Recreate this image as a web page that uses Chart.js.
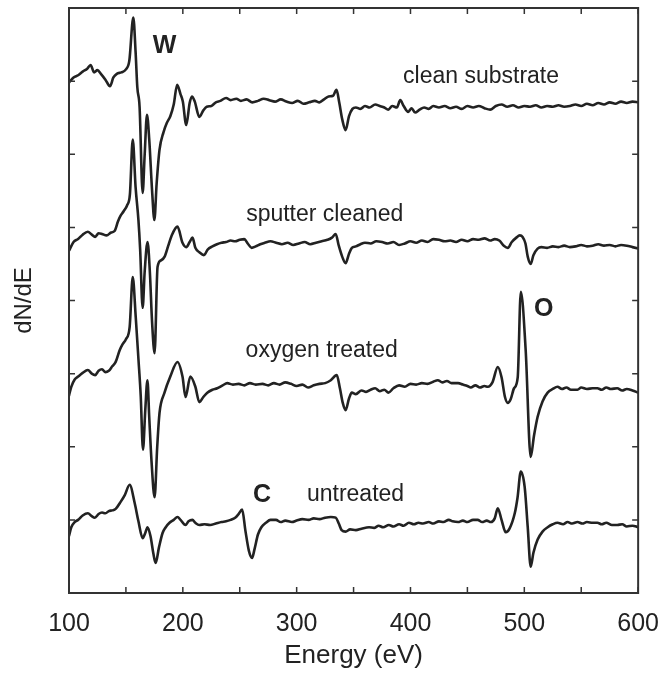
<!DOCTYPE html>
<html>
<head>
<meta charset="utf-8">
<title>dN/dE spectra</title>
<script src="https://cdn.jsdelivr.net/npm/chart.js@4/dist/chart.umd.min.js"></script>
<style>
	html, body { margin: 0; padding: 0; background: #fff; }
	#wrap { width: 667px; height: 675px; position: relative; }
</style>
</head>
<body>
<div id="wrap"><canvas id="spectra"></canvas></div>
<script>
// ── Data (energy in eV, dN/dE in arbitrary offset units) ─────────────
const xTicks = [100, 200, 300, 400, 500, 600];
const xMinorTicks = [150, 250, 350, 450, 550];
const yTicks = [1, 2, 3, 4, 5, 6, 7];

const cleanEnergy = [100, 104, 108, 112, 116, 119, 122, 125, 128, 132, 136, 139, 142, 146, 150, 153, 156.5, 158.5, 160, 162, 164.7, 166.5, 168.5, 170.5, 173, 175, 177, 179.5, 183, 186, 189, 192, 195, 198, 200, 203, 206, 208, 210.5, 214.5, 218, 221, 225, 229, 233, 238, 242, 247, 251, 256, 261, 266, 271, 276, 281, 286, 291, 296, 301, 306, 311, 316, 320, 324, 328, 332, 335, 337.5, 340, 343, 346, 349, 352, 356, 360, 364, 369, 373, 377, 380.5, 384, 388, 391, 394, 398, 401, 404, 408, 412, 416, 420, 425, 430, 435, 440, 445, 450, 455, 460, 465, 470, 475, 480, 485, 490, 495, 500, 505, 510, 515, 520, 525, 530, 535, 540, 545, 550, 555, 560, 565, 570, 575, 580, 585, 590, 595, 600];
const cleanSignal = [6.98, 7.05, 7.08, 7.13, 7.17, 7.22, 7.12, 7.15, 7.10, 7.02, 6.93, 7.05, 7.10, 7.12, 7.16, 7.28, 7.87, 7.40, 6.92, 6.65, 5.47, 6.00, 6.54, 6.20, 5.50, 5.10, 5.60, 6.06, 6.30, 6.43, 6.52, 6.68, 6.95, 6.82, 6.72, 6.40, 6.70, 6.79, 6.72, 6.51, 6.60, 6.65, 6.66, 6.71, 6.73, 6.77, 6.74, 6.76, 6.73, 6.75, 6.71, 6.73, 6.76, 6.74, 6.72, 6.75, 6.72, 6.70, 6.73, 6.69, 6.71, 6.73, 6.71, 6.75, 6.79, 6.80, 6.88, 6.70, 6.48, 6.33, 6.52, 6.62, 6.64, 6.62, 6.66, 6.64, 6.68, 6.66, 6.64, 6.61, 6.66, 6.64, 6.74, 6.66, 6.58, 6.63, 6.57, 6.61, 6.64, 6.62, 6.66, 6.64, 6.66, 6.63, 6.65, 6.62, 6.66, 6.64, 6.66, 6.63, 6.61, 6.66, 6.68, 6.65, 6.67, 6.64, 6.66, 6.65, 6.67, 6.64, 6.66, 6.65, 6.67, 6.65, 6.66, 6.68, 6.66, 6.69, 6.67, 6.70, 6.68, 6.71, 6.69, 6.72, 6.70, 6.72, 6.71];

const sputterEnergy = [100, 104, 108, 112, 116.5, 120, 123, 126, 129, 133, 137, 140, 143, 145, 148, 151, 153.5, 156, 158.5, 161, 162.5, 164.7, 166.5, 169, 171, 173, 175.2, 177.8, 181, 184, 187, 190, 195.3, 199.7, 203, 206, 208.5, 211, 214.5, 218.5, 222, 226, 230, 234, 238, 242, 246, 250, 254, 257, 260.5, 264, 268, 272, 277, 282, 287, 292, 297, 302, 307, 312, 317, 322, 327, 331, 334.3, 337, 340, 343, 346, 348.5, 352, 356, 360, 365, 370, 375, 380, 385, 390, 395, 400, 405, 410, 415, 420, 425, 430, 435, 440, 445, 450, 455, 460, 465, 470, 474, 478, 482, 485.5, 489, 493, 496, 498.5, 501, 503, 505.6, 508, 511.7, 515, 520, 525, 530, 535, 540, 545, 550, 555, 560, 565, 570, 575, 580, 585, 590, 595, 600];
const sputterSignal = [4.68, 4.80, 4.84, 4.90, 4.94, 4.90, 4.87, 4.92, 4.91, 4.89, 4.93, 4.95, 5.08, 5.15, 5.22, 5.30, 5.45, 6.20, 5.55, 5.10, 4.70, 3.90, 4.40, 4.80, 4.40, 3.70, 3.28, 4.46, 4.55, 4.60, 4.74, 4.88, 5.01, 4.79, 4.73, 4.80, 4.86, 4.72, 4.66, 4.62, 4.70, 4.74, 4.77, 4.79, 4.80, 4.82, 4.81, 4.83, 4.84, 4.78, 4.72, 4.74, 4.77, 4.79, 4.81, 4.79, 4.77, 4.79, 4.76, 4.78, 4.80, 4.77, 4.79, 4.81, 4.83, 4.86, 4.91, 4.75, 4.60, 4.51, 4.64, 4.72, 4.74, 4.77, 4.79, 4.78, 4.81, 4.80, 4.78, 4.80, 4.76, 4.78, 4.81, 4.79, 4.82, 4.80, 4.84, 4.83, 4.81, 4.82, 4.80, 4.83, 4.81, 4.84, 4.83, 4.85, 4.82, 4.84, 4.82, 4.75, 4.72, 4.80, 4.86, 4.89, 4.87, 4.78, 4.60, 4.50, 4.62, 4.71, 4.73, 4.72, 4.74, 4.73, 4.75, 4.73, 4.74, 4.76, 4.74, 4.75, 4.77, 4.75, 4.76, 4.74, 4.76, 4.75, 4.73, 4.71];

const oxygenEnergy = [100, 102, 105, 108, 112, 116.5, 120, 123, 126, 129, 132, 135, 138, 141, 144.5, 147, 150, 153.3, 156, 158.6, 161, 163, 165, 167, 168.9, 170.5, 172.5, 175.2, 177.5, 179.5, 183.9, 189, 195.3, 199.7, 202.4, 206.6, 211, 214.5, 218, 221.5, 226, 230.2, 235, 239, 244, 249, 254, 259, 264, 270, 275, 280, 285, 290, 295, 300, 305, 310, 315, 320, 325, 330, 335.2, 338, 340.5, 343, 346, 348.5, 352, 357, 361, 365, 369, 373, 377, 380.6, 385, 390, 395, 400, 405, 410, 415, 420, 424, 428, 432, 436, 441.8, 446, 450, 453, 457, 461, 465, 468, 472, 476.7, 480, 483, 485.5, 488, 491, 494.2, 496.9, 501.2, 505.6, 508.5, 511.7, 516, 520.5, 525, 529.2, 533, 537, 541, 546.7, 550, 555, 560, 564.2, 568, 572, 576, 581.6, 586, 590, 595, 600];
const oxygenSignal = [2.70, 2.82, 2.92, 2.96, 3.01, 3.05, 3.00, 2.98, 3.04, 3.06, 3.02, 3.04, 3.10, 3.16, 3.32, 3.40, 3.47, 3.64, 4.32, 3.78, 3.20, 2.70, 1.96, 2.50, 2.91, 2.40, 1.80, 1.31, 2.00, 2.46, 2.74, 2.96, 3.16, 2.96, 2.68, 2.96, 2.82, 2.61, 2.68, 2.74, 2.78, 2.80, 2.84, 2.87, 2.85, 2.86, 2.84, 2.87, 2.85, 2.86, 2.84, 2.87, 2.85, 2.88, 2.86, 2.83, 2.85, 2.81, 2.84, 2.86, 2.87, 2.91, 2.98, 2.80, 2.60, 2.50, 2.66, 2.74, 2.72, 2.77, 2.75, 2.78, 2.80, 2.76, 2.78, 2.74, 2.80, 2.84, 2.82, 2.86, 2.85, 2.87, 2.86, 2.89, 2.91, 2.88, 2.90, 2.87, 2.87, 2.85, 2.83, 2.81, 2.84, 2.81, 2.83, 2.82, 2.88, 3.09, 2.95, 2.68, 2.60, 2.65, 2.80, 2.95, 4.12, 3.32, 1.86, 2.15, 2.41, 2.62, 2.74, 2.79, 2.82, 2.79, 2.81, 2.78, 2.78, 2.81, 2.79, 2.80, 2.80, 2.78, 2.81, 2.79, 2.80, 2.77, 2.79, 2.77, 2.74];

const untreatedEnergy = [100, 102, 105, 108, 112, 116.6, 120, 122.7, 126, 129, 132, 135, 138, 141, 145.5, 149, 153.3, 157.7, 161, 164.7, 167, 169, 171.7, 174, 176.1, 179, 182.2, 185, 188.3, 192, 195.3, 198, 202.3, 205, 208.4, 211, 214.5, 219, 224, 229, 234, 238, 242, 246, 249, 252.1, 255, 258, 260.8, 263, 266, 269, 273, 277, 281.8, 286, 290, 295.8, 300, 305, 310.5, 315, 320, 325, 330, 334.3, 337, 339.5, 343, 347, 352, 357, 363.6, 368, 372, 376, 381, 385, 390, 394, 398.6, 403, 407, 411, 416, 420, 425, 429, 433.6, 437, 441.8, 446, 450, 455, 459, 463, 467, 470.6, 474, 476.7, 480, 483.7, 487, 491.6, 494, 496.9, 500.3, 503, 505.6, 508, 511.7, 516, 520.5, 525, 529.2, 534, 538, 542, 546.7, 551, 555, 560, 564.2, 568, 572, 577, 581.6, 586, 590, 595, 600];
const untreatedSignal = [0.78, 0.90, 0.97, 1.00, 1.06, 1.09, 1.05, 1.03, 1.08, 1.10, 1.09, 1.12, 1.13, 1.15, 1.25, 1.34, 1.48, 1.23, 0.98, 0.75, 0.82, 0.90, 0.77, 0.55, 0.41, 0.62, 0.82, 0.90, 0.96, 1.00, 1.04, 1.00, 0.93, 0.98, 1.00, 0.96, 0.93, 0.94, 0.93, 0.95, 0.97, 0.98, 1.00, 1.03, 1.08, 1.14, 0.85, 0.58, 0.48, 0.60, 0.80, 0.90, 0.96, 1.00, 1.00, 0.97, 0.99, 0.97, 0.99, 1.01, 1.00, 1.02, 1.01, 1.03, 1.04, 1.03, 0.95, 0.86, 0.84, 0.87, 0.86, 0.88, 0.90, 0.89, 0.92, 0.90, 0.93, 0.91, 0.94, 0.92, 0.96, 0.94, 0.96, 0.95, 0.97, 0.95, 0.98, 0.97, 1.00, 0.98, 0.97, 0.99, 0.97, 1.00, 1.00, 0.97, 0.99, 0.97, 1.02, 1.16, 1.00, 0.83, 0.88, 1.09, 1.30, 1.66, 1.45, 0.90, 0.36, 0.55, 0.73, 0.84, 0.90, 0.94, 0.96, 0.94, 0.97, 0.95, 0.97, 0.95, 0.97, 0.96, 0.96, 0.94, 0.96, 0.93, 0.93, 0.94, 0.91, 0.92, 0.90];

// Annotation text placed in data coordinates (energy, dN/dE)
const annotations = [
	{ text: "W",               x: 184,   y: 7.48, bold: true  },
	{ text: "clean substrate", x: 462,   y: 7.06, bold: false },
	{ text: "sputter cleaned", x: 324.7, y: 5.18, bold: false },
	{ text: "oxygen treated",  x: 322,   y: 3.32, bold: false },
	{ text: "O",               x: 517,   y: 3.88, bold: true  },
	{ text: "C",               x: 269.6, y: 1.34, bold: true  },
	{ text: "untreated",       x: 351.7, y: 1.35, bold: false },
];

const FONT = "'Liberation Sans', Arial, Helvetica, sans-serif";
const INK  = "#222";

function toPoints(xs, ys) {
	return xs.map((x, i) => ({ x: x, y: ys[i] }));
}

function spectrum(label, xs, ys) {
	return {
		label:                  label,
		data:                   toPoints(xs, ys),
		borderColor:            INK,
		borderWidth:            2.6,
		borderJoinStyle:        "round",
		borderCapStyle:         "round",
		pointRadius:            0,
		cubicInterpolationMode: "monotone",
		fill:                   false,
	};
}

// ── Frame, inward ticks and text labels ────────────────────────────
const framePlugin = {
	id: "frame",
	afterDraw(chart) {
		const { ctx, chartArea: a, scales } = chart;
		const xs = scales.x, ys = scales.y;
		ctx.save();
		ctx.strokeStyle = "#333";
		ctx.lineWidth   = 2;
		ctx.strokeRect(a.left, a.top, a.right - a.left, a.bottom - a.top);

		ctx.lineWidth = 1.5;
		ctx.beginPath();
		xTicks.concat(xMinorTicks).forEach(v => {
			const px = xs.getPixelForValue(v);
			ctx.moveTo(px, a.bottom); ctx.lineTo(px, a.bottom - 6);
			ctx.moveTo(px, a.top);    ctx.lineTo(px, a.top + 6);
		});
		yTicks.forEach(v => {
			const py = ys.getPixelForValue(v);
			ctx.moveTo(a.left, py);  ctx.lineTo(a.left + 6, py);
			ctx.moveTo(a.right, py); ctx.lineTo(a.right - 6, py);
		});
		ctx.stroke();

		ctx.fillStyle    = INK;
		ctx.textAlign    = "center";
		ctx.textBaseline = "middle";
		annotations.forEach(t => {
			ctx.font = (t.bold ? "bold 25px " : "23px ") + FONT;
			ctx.fillText(t.text, xs.getPixelForValue(t.x), ys.getPixelForValue(t.y));
		});
		ctx.restore();
	},
};

document.addEventListener("DOMContentLoaded", function () {
	new Chart(document.getElementById("spectra"), {
		type: "line",
		data: {
			datasets: [
				spectrum("clean substrate", cleanEnergy,     cleanSignal),
				spectrum("sputter cleaned", sputterEnergy,   sputterSignal),
				spectrum("oxygen treated",  oxygenEnergy,    oxygenSignal),
				spectrum("untreated",       untreatedEnergy, untreatedSignal),
			],
		},
		options: {
			responsive:          true,
			maintainAspectRatio: false,
			animation:           false,
			layout: { padding: { left: 0, right: 26, top: 8, bottom: 0 } },
			plugins: {
				legend:  { display: false },
				tooltip: { enabled: false },
			},
			scales: {
				x: {
					type: "linear",
					min:  100,
					max:  600,
					grid:   { display: false },
					border: { display: false },
					afterBuildTicks: s => { s.ticks = xTicks.map(v => ({ value: v })); },
					afterFit: s => { s.height = 82; },
					ticks: {
						color:       INK,
						padding:     8,
						maxRotation: 0,
						font:        { family: FONT, size: 25 },
					},
					title: {
						display: true,
						text:    "Energy (eV)",
						color:   INK,
						padding: { top: 0, bottom: 4 },
						font:    { family: FONT, size: 26 },
					},
				},
				y: {
					min: 0,
					max: 8,
					grid:   { display: false },
					border: { display: false },
					ticks:  { display: false },
					afterFit: s => { s.width = 69; },
					title: {
						display: true,
						text:    "dN/dE",
						color:   INK,
						padding: { top: 10, bottom: 0 },
						font:    { family: FONT, size: 24 },
					},
				},
			},
		},
		plugins: [framePlugin],
	});
});
</script>
</body>
</html>
